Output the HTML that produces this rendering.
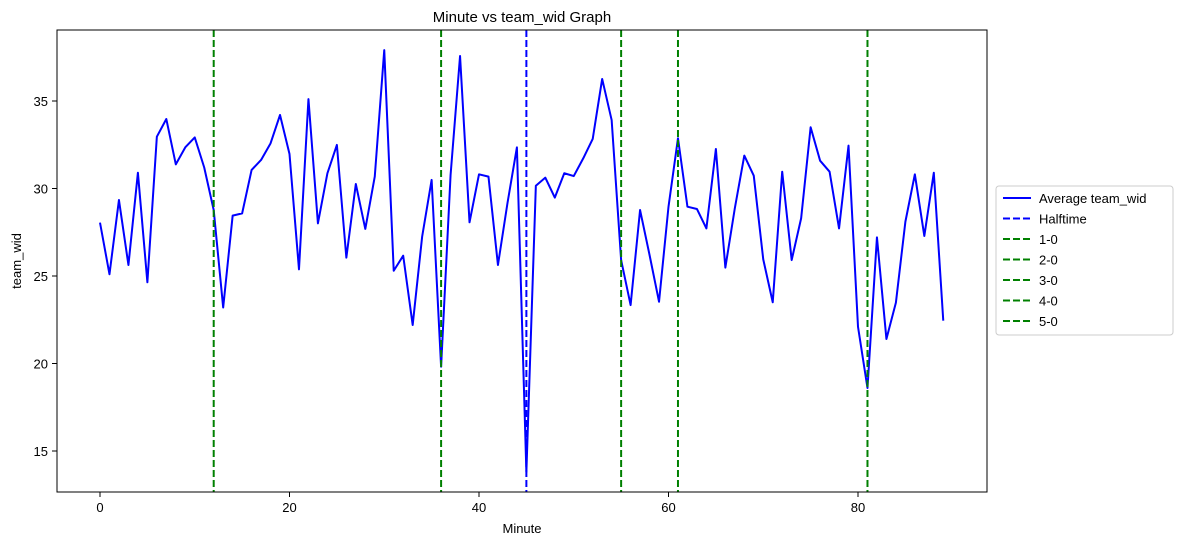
<!DOCTYPE html>
<html><head><meta charset="utf-8"><style>
body{margin:0;background:#fff;}
svg{display:block;font-family:"Liberation Sans","DejaVu Sans",sans-serif;}
</style></head><body>
<svg id="chart" width="1182" height="545" viewBox="0 0 1182 545">
<rect x="0" y="0" width="1182" height="545" fill="#fff"/>
<text x="522" y="22" font-size="15" text-anchor="middle">Minute vs team_wid Graph</text>
<g id="grid"></g>
<g id="series"></g>
<rect x="57" y="30" width="930" height="462" fill="none" stroke="#000" stroke-width="1"/>
<g id="axes" font-size="13"></g>
<text x="522" y="533" font-size="13" text-anchor="middle">Minute</text>
<text x="21" y="261" font-size="13" text-anchor="middle" transform="rotate(-90 21 261)">team_wid</text>
<g>
<rect x="996" y="186" width="177" height="149" rx="3" fill="#fff" stroke="#ccc"/>
<g id="legend-items" font-size="13"></g>
</g>
</svg>
<script>
const minutes = Array.from({length:90},(_,i)=>i);
const teamWid = [28.05,25.1,29.34,25.63,30.9,24.64,32.96,33.97,31.38,32.35,32.92,31.2,28.77,23.2,28.45,28.58,31.06,31.63,32.58,34.2,31.97,25.38,35.11,28.01,30.87,32.49,26.05,30.26,27.69,30.68,
37.91,25.3,26.16,22.2,27.25,30.49,19.82,30.77,37.57,28.07,30.81,30.68,25.63,29.15,32.35,13.8,30.16,30.62,29.48,30.87,30.71,31.72,32.83,36.26,33.91,25.91,23.34,28.77,26.2,23.53,28.96,32.87,
28.96,28.83,27.72,32.26,25.48,28.87,31.88,30.73,25.95,23.5,30.96,25.91,28.3,33.5,31.59,30.96,27.72,32.45,22.1,18.6,27.21,21.4,23.48,28.1,30.81,27.29,30.9,22.45];
const goalMinutes = [12,36,55,61,81];
const goalLabels = ['1-0','2-0','3-0','4-0','5-0'];
const halftime = [45];
const xTicks = [0,20,40,60,80];
const yTicks = [15,20,25,30,35];

const X = v => 100 + v*9.475;
const Y = v => 101 + (35 - v)*17.5;
const NS='http://www.w3.org/2000/svg';
function mk(tag, attrs, parent){const e=document.createElementNS(NS,tag);for(const k in attrs)e.setAttribute(k,attrs[k]);parent.appendChild(e);return e;}
const series=document.getElementById('series'), axes=document.getElementById('axes');

const pts = minutes.map((m,i)=>X(m).toFixed(2)+','+Y(teamWid[i]).toFixed(2)).join(' ');
const line = mk('polyline',{points:pts,fill:'none',stroke:'#0000ff','stroke-width':2,'stroke-linejoin':'round'},series);



halftime.forEach(h=>{
  const l=mk('line',{x1:X(h),x2:X(h),y1:30,y2:492,stroke:'#0000ff','stroke-width':2,'stroke-dasharray':'7,3'},series);
  
  
});
goalMinutes.forEach((g,i)=>{
  const l=mk('line',{x1:X(g),x2:X(g),y1:30,y2:492,stroke:'#008000','stroke-width':2,'stroke-dasharray':'7,3'},series);
  
  
});

xTicks.forEach(t=>{
  mk('line',{x1:X(t),x2:X(t),y1:492,y2:497,stroke:'#000'},axes);
  const tx=mk('text',{x:X(t),y:512,'text-anchor':'middle'},axes);tx.textContent=t;
  
  
});
yTicks.forEach(t=>{
  mk('line',{x1:52,x2:57,y1:Y(t),y2:Y(t),stroke:'#000'},axes);
  const tx=mk('text',{x:48,y:Y(t)+5,'text-anchor':'end'},axes);tx.textContent=t;
  
  
});

const legendItems=[{label:'Average team_wid',color:'#0000ff',dash:null},{label:'Halftime',color:'#0000ff',dash:'7,3'}]
  .concat(goalLabels.map(g=>({label:g,color:'#008000',dash:'7,3'})));
const lg=document.getElementById('legend-items');
legendItems.forEach((it,i)=>{
  const y=198+i*20.5;
  const a={x1:1003,x2:1031,y1:y,y2:y,stroke:it.color,'stroke-width':2};
  if(it.dash)a['stroke-dasharray']=it.dash;
  mk('line',a,lg);
  const tx=mk('text',{x:1039,y:y+5},lg);tx.textContent=it.label;
  
  
});
</script>
</body></html>
